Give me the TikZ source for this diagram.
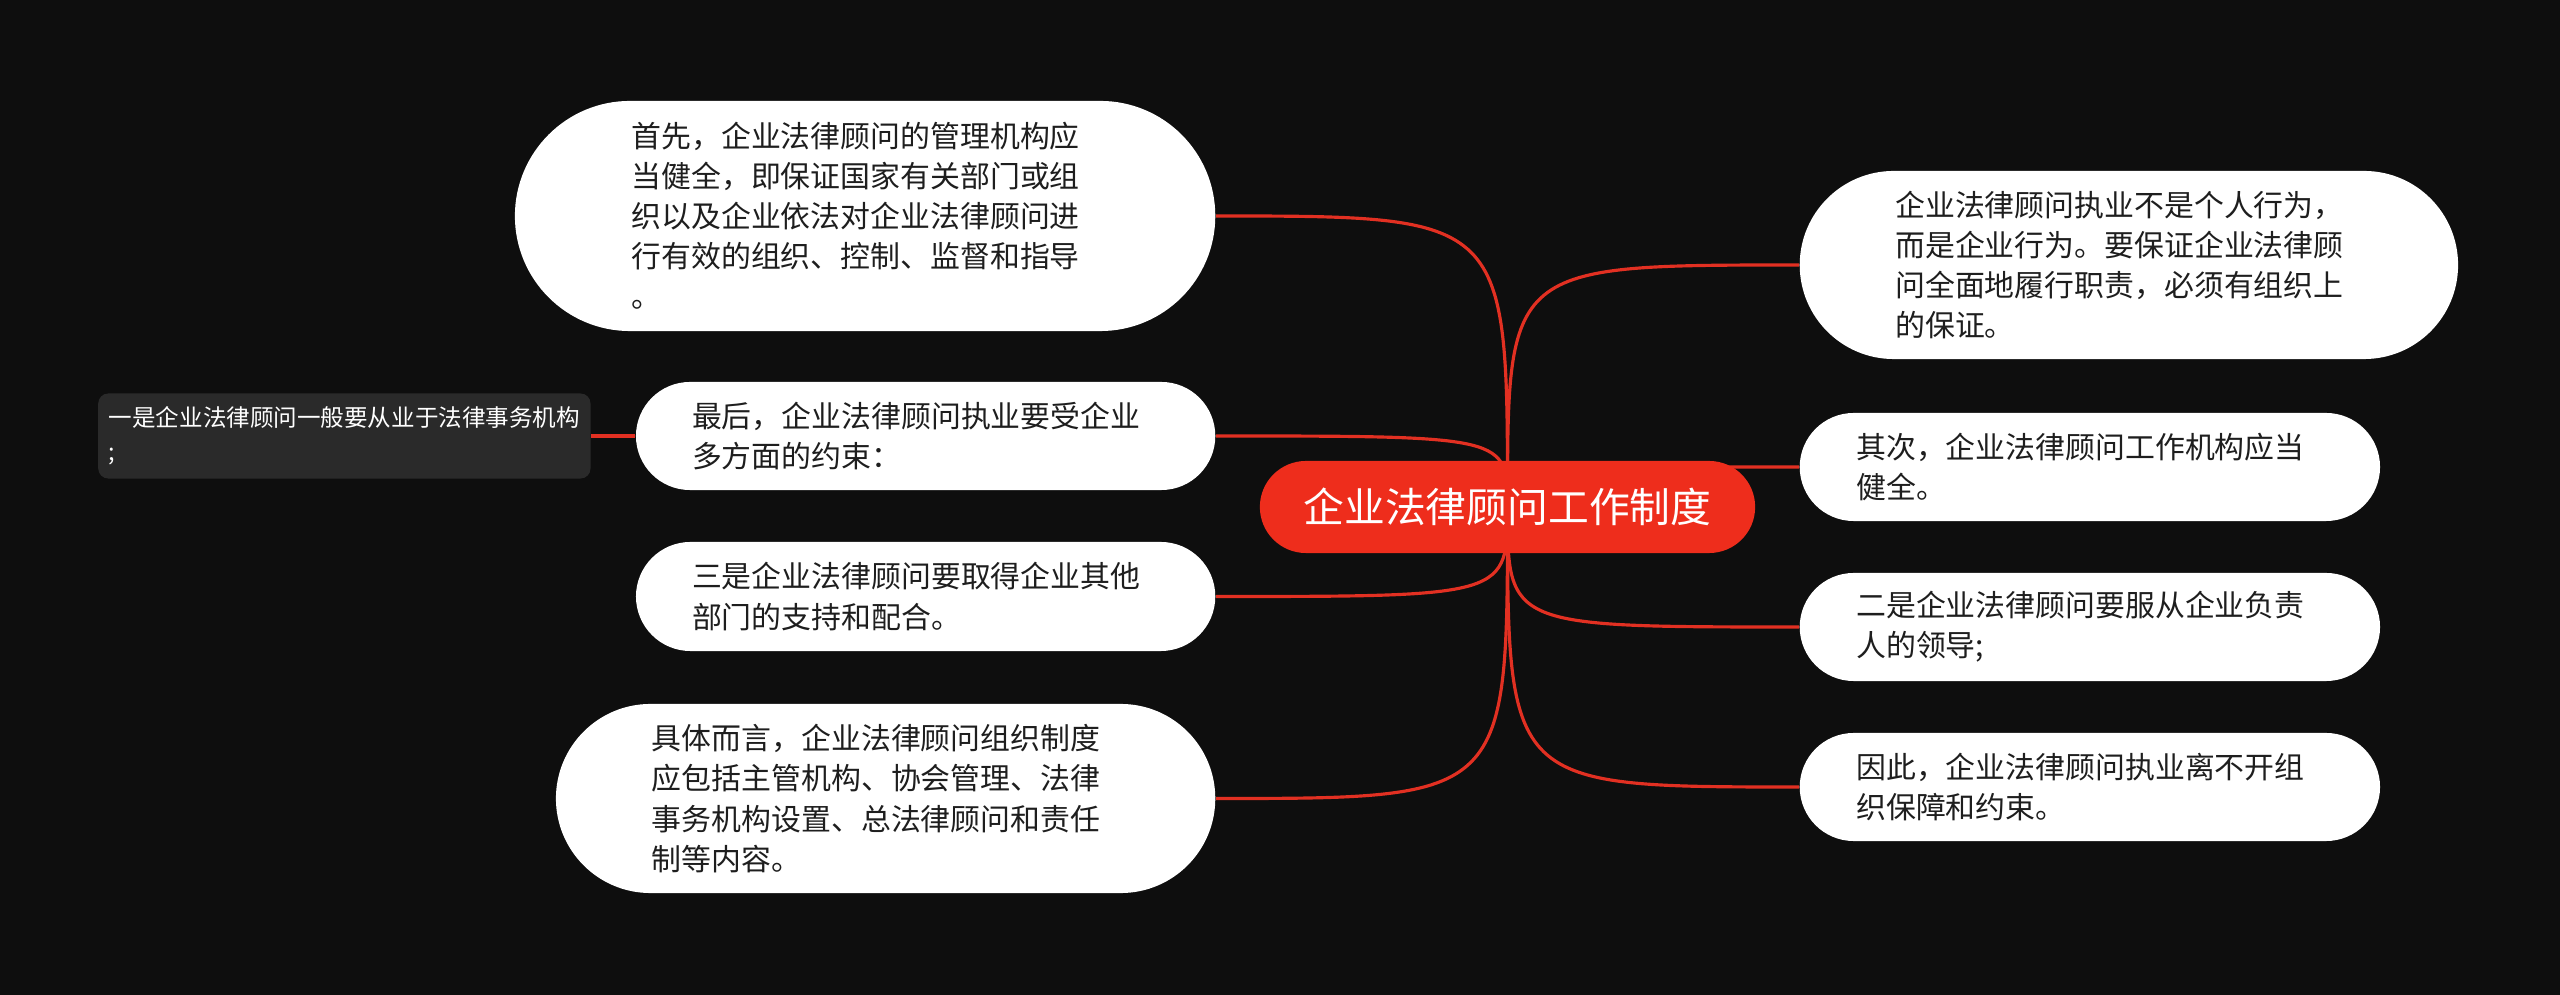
\documentclass[tikz,border=0pt]{standalone}
\usepackage{fontspec}
\setmainfont{Noto Sans CJK SC}
\definecolor{bgdark}{RGB}{14,14,14}
\definecolor{rootred}{RGB}{238,45,28}
\definecolor{linkred}{RGB}{226,48,34}
\definecolor{notegray}{RGB}{42,42,42}
\definecolor{leaftext}{RGB}{30,30,30}
\usetikzlibrary{positioning, shapes.misc, backgrounds}

\begin{document}
\begin{tikzpicture}[x=0.01cm, y=-0.01cm,
  root/.style={rounded rectangle, fill=rootred, text=white, inner sep=0pt,
    minimum width=4.95cm, minimum height=0.92cm, font=\fontsize{11.6}{14}\selectfont},
  leaf/.style={rounded rectangle, fill=white, text=leaftext, align=left, text width=4.67cm,
    inner sep=0pt, font=\fontsize{8.5}{11.4}\selectfont},
  sidenote/.style={rectangle, rounded corners=0.1cm, fill=notegray, text=white, align=left,
    inner sep=0pt, minimum width=4.92cm, minimum height=0.85cm, font=\fontsize{6.7}{9.6}\selectfont},
  link/.style={draw=linkred, line width=0.9pt}]

  % Canvas
  \begin{scope}[on background layer]
    \fill[bgdark] (0, 0) rectangle (2560, 995);
  \end{scope}
  \useasboundingbox (0, 0) rectangle (2560, 995);

  % Central topic
  \node[root] (c) at (1507.5, 507) {企业法律顾问工作制度};

  % Left branches
  \node[leaf, anchor=east, minimum width=7cm, minimum height=2.3cm] (l1) at (1216, 216) {
    首先，企业法律顾问的管理机构应\\
    当健全，即保证国家有关部门或组\\
    织以及企业依法对企业法律顾问进\\
    行有效的组织、控制、监督和指导\\
    。};
  \node[leaf, anchor=east, minimum width=5.79cm, minimum height=1.08cm] (l2) at (1216, 436) {
    最后，企业法律顾问执业要受企业\\
    多方面的约束：};
  \node[leaf, anchor=east, minimum width=5.79cm, minimum height=1.09cm] (l3) at (1216, 596.5) {
    三是企业法律顾问要取得企业其他\\
    部门的支持和配合。};
  \node[leaf, anchor=east, minimum width=6.59cm, minimum height=1.89cm] (l4) at (1216, 798.5) {
    具体而言，企业法律顾问组织制度\\
    应包括主管机构、协会管理、法律\\
    事务机构设置、总法律顾问和责任\\
    制等内容。};
  \node[sidenote, left=0.44cm of l2] (s1) {
    一是企业法律顾问一般要从业于法律事务机构\\
    ;};

  % Right branches
  \node[leaf, anchor=west, minimum width=6.58cm, minimum height=1.88cm] (r1) at (1799, 265) {
    企业法律顾问执业不是个人行为，\\
    而是企业行为。要保证企业法律顾\\
    问全面地履行职责，必须有组织上\\
    的保证。};
  \node[leaf, anchor=west, minimum width=5.8cm, minimum height=1.08cm] (r2) at (1799, 467) {
    其次，企业法律顾问工作机构应当\\
    健全。};
  \node[leaf, anchor=west, minimum width=5.8cm, minimum height=1.08cm] (r3) at (1799, 627) {
    二是企业法律顾问要服从企业负责\\
    人的领导;};
  \node[leaf, anchor=west, minimum width=5.8cm, minimum height=1.08cm] (r4) at (1799, 787) {
    因此，企业法律顾问执业离不开组\\
    织保障和约束。};

  % Connectors
  \begin{scope}[on background layer]
    \draw[link] (c.center) .. controls (c.center |- l1.east) .. (l1.east);
    \draw[link] (c.center) .. controls (c.center |- l2.east) .. (l2.east);
    \draw[link] (c.center) .. controls (c.center |- l3.east) .. (l3.east);
    \draw[link] (c.center) .. controls (c.center |- l4.east) .. (l4.east);
    \draw[link] (c.center) .. controls (c.center |- r1.west) .. (r1.west);
    \draw[link] (c.center) .. controls (c.center |- r2.west) .. (r2.west);
    \draw[link] (c.center) .. controls (c.center |- r3.west) .. (r3.west);
    \draw[link] (c.center) .. controls (c.center |- r4.west) .. (r4.west);
    \draw[link] (l2.west) -- (s1.east);
  \end{scope}
\end{tikzpicture}
\end{document}
